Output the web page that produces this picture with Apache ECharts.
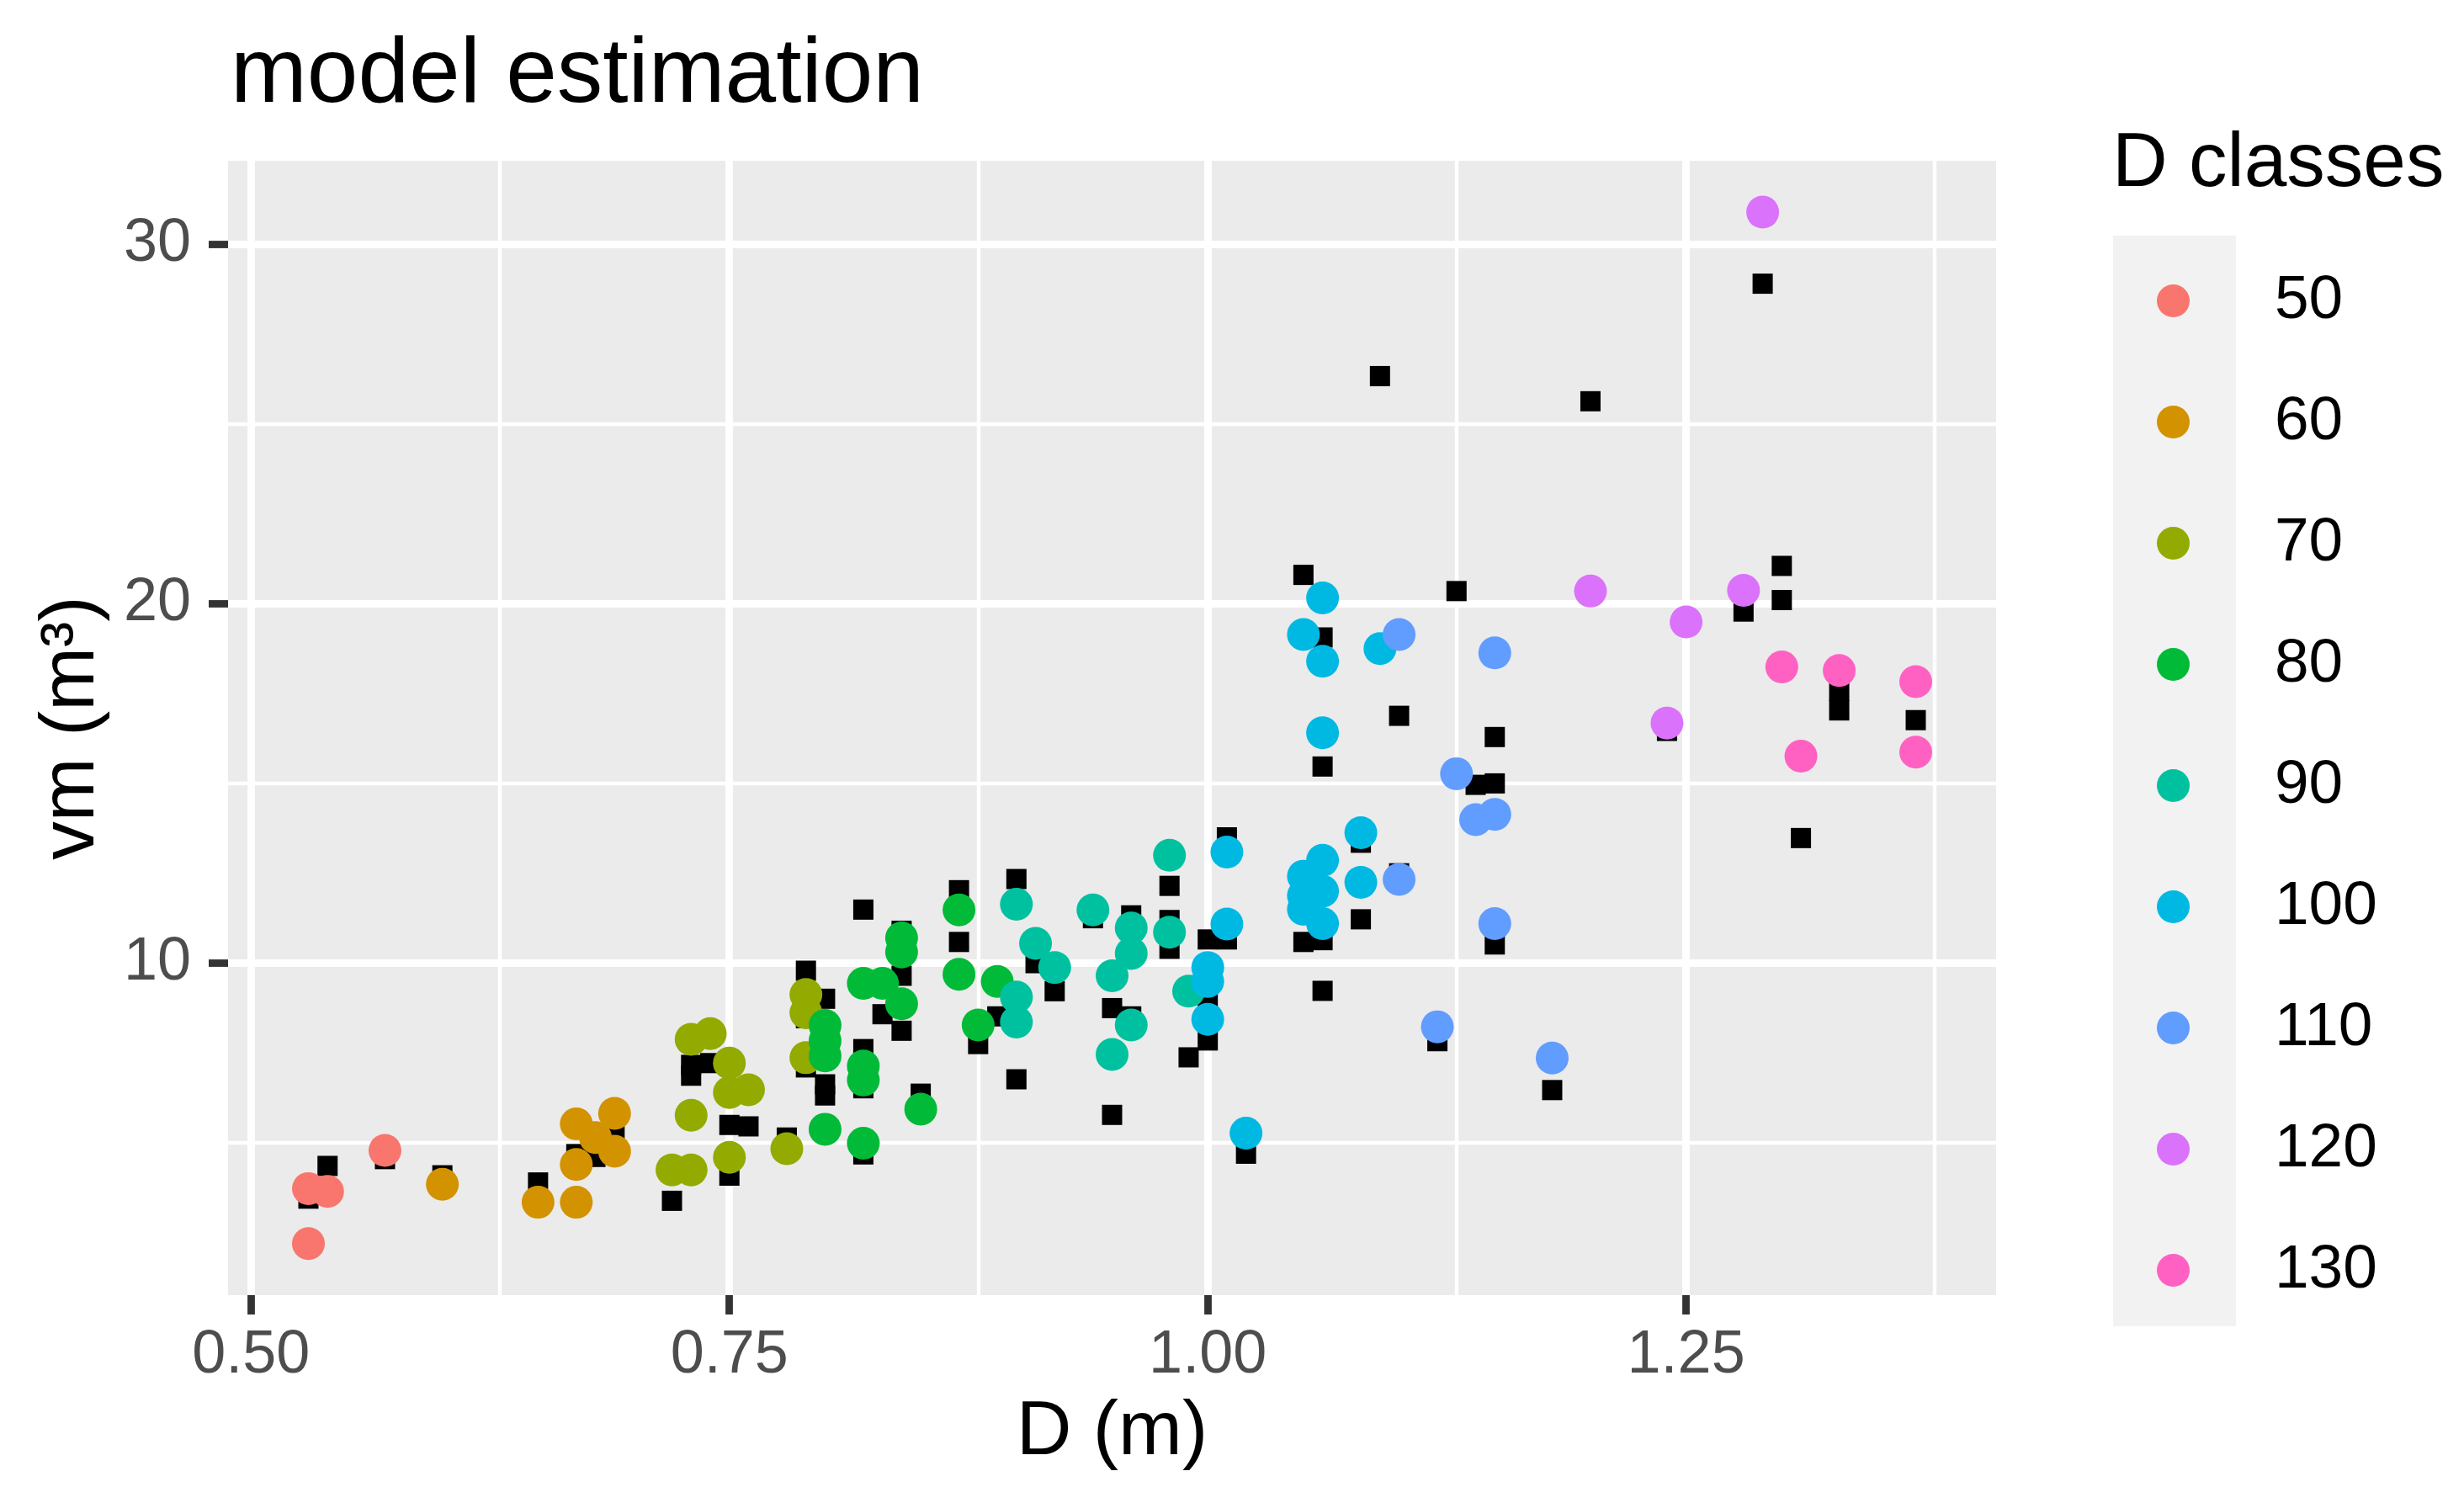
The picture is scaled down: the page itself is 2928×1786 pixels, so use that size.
<!DOCTYPE html>
<html>
<head>
<meta charset="utf-8">
<script src="https://cdn.jsdelivr.net/npm/echarts@6/dist/echarts.min.js"></script>
<style>
html,body{margin:0;padding:0;background:#fff;}
#chart{width:2928px;height:1786px;}
</style>
</head>
<body>
<div id="chart"></div>
<script>
// ---- data ----
const classNames = ['50','60','70','80','90','100','110','120','130'];

const obs50 = [[0.53,3.73],[0.54,3.65],[0.53,2.20],[0.57,4.79]];
const obs60 = [[0.60,3.85],[0.65,3.35],[0.67,3.35],[0.67,4.40],[0.68,5.15],[0.67,5.53],[0.69,5.82],[0.69,4.77]];
const obs70 = [[0.73,7.88],[0.74,8.04],[0.75,7.22],[0.75,6.40],[0.76,6.48],[0.73,5.77],[0.72,4.25],[0.73,4.25],
               [0.75,4.60],[0.78,4.84],[0.79,9.13],[0.79,8.62],[0.79,7.37]];
const obs80 = [[0.80,8.27],[0.80,7.84],[0.80,7.42],[0.82,7.14],[0.82,6.75],[0.82,9.44],[0.83,9.44],[0.80,5.38],
               [0.82,4.99],[0.84,8.87],[0.84,10.70],[0.84,10.31],[0.85,5.94],[0.87,11.48],[0.87,9.69],[0.89,9.49],[0.88,8.28]];
const obs90 = [[0.90,11.64],[0.91,10.55],[0.92,9.88],[0.90,9.06],[0.90,8.36],[0.94,11.48],[0.96,10.98],[0.96,10.27],
               [0.95,9.65],[0.96,8.28],[0.95,7.46],[0.98,13.00],[0.98,10.86],[0.99,9.22]];
const obs100 = [[1.01,13.09],[1.01,11.09],[1.00,9.88],[1.00,9.49],[1.00,8.44],[1.02,5.27],[1.08,13.63],[1.08,12.25],
                [1.06,12.86],[1.06,12.00],[1.06,11.10],[1.05,12.42],[1.05,11.88],[1.05,11.50],
                [1.06,20.16],[1.05,19.14],[1.06,18.40],[1.09,18.75],[1.06,16.41]];
const obs110 = [[1.13,15.27],[1.14,13.99],[1.15,14.14],[1.10,12.33],[1.15,11.10],[1.12,8.23],[1.18,7.36],[1.10,19.14],[1.15,18.63]];
const obs120 = [[1.29,30.89],[1.20,20.35],[1.28,20.37],[1.25,19.49],[1.24,16.68]];
const obs130 = [[1.30,18.24],[1.33,18.14],[1.31,15.76],[1.37,17.83],[1.37,15.87]];

const estimated = [
  [0.53,3.45],[0.54,4.36],[0.57,4.55],[0.60,4.10],[0.65,3.90],[0.67,4.69],[0.68,4.61],[0.69,5.28],
  [0.72,3.39],[0.73,7.17],[0.73,6.87],[0.74,7.22],[0.75,5.50],[0.76,5.46],[0.75,4.09],[0.78,5.15],
  [0.79,9.79],[0.79,8.47],[0.79,7.10],[0.80,9.01],[0.80,6.63],[0.80,6.32],[0.82,11.49],[0.82,7.61],
  [0.82,6.52],[0.82,4.68],[0.83,8.58],[0.84,9.65],[0.84,8.12],[0.84,10.90],[0.85,6.37],[0.87,12.03],
  [0.87,10.59],[0.90,12.34],[0.89,8.52],[0.88,7.75],[0.90,6.77],[0.91,10.00],[0.92,9.22],[0.94,11.25],
  [0.96,11.33],[0.95,8.75],[0.96,8.52],[0.95,5.78],[0.98,12.15],[0.98,11.20],[0.98,10.40],[1.00,10.66],
  [1.00,8.98],[1.00,7.85],[0.99,7.38],[1.01,13.50],[1.01,10.66],[1.02,4.70],[1.05,10.59],[1.06,10.64],
  [1.06,15.47],[1.14,14.96],[1.15,15.00],[1.10,12.50],[1.08,11.22],[1.15,10.52],[1.06,9.23],[1.12,7.83],
  [1.18,6.47],[1.31,13.48],[1.08,13.35],[1.09,26.33],[1.20,25.63],[1.05,20.80],[1.13,20.35],[1.30,21.05],
  [1.30,20.10],[1.28,19.78],[1.06,19.06],[1.10,16.88],[1.15,16.29],[1.24,16.46],[1.33,17.57],[1.33,17.03],
  [1.29,28.90],[1.37,16.76]
];

const observedByClass = [obs50, obs60, obs70, obs80, obs90, obs100, obs110, obs120, obs130];

const xTicks = [0.5, 0.75, 1.0, 1.25];
const xMinorTicks = [0.625, 0.875, 1.125, 1.375];
const yTicks = [10, 20, 30];
const yMinorTicks = [5, 15, 25];

// ---- styling ----
const palette = ['#F8766D','#D39200','#93AA00','#00BA38','#00C19F','#00B9E3','#619CFF','#DB72FB','#FF61C3'];
const FONT = '"Liberation Sans", Arial, sans-serif';

const chart = echarts.init(document.getElementById('chart'), null, {renderer: 'canvas'});

const gridLines = [];
xTicks.forEach(v => gridLines.push({xAxis: v, lineStyle: {width: 8.8, color: '#FFFFFF', type: 'solid'}}));
xMinorTicks.forEach(v => gridLines.push({xAxis: v, lineStyle: {width: 4.4, color: '#FFFFFF', type: 'solid'}}));
yTicks.forEach(v => gridLines.push({yAxis: v, lineStyle: {width: 8.8, color: '#FFFFFF', type: 'solid'}}));
yMinorTicks.forEach(v => gridLines.push({yAxis: v, lineStyle: {width: 4.4, color: '#FFFFFF', type: 'solid'}}));

const series = [
  {
    name: 'gridlines', type: 'scatter', data: [], z: 1, silent: true,
    markLine: {silent: true, z: 1, zlevel: 0, symbol: ['none','none'], label: {show: false}, animation: false, data: gridLines}
  },
  {
    name: 'estimated', type: 'scatter', data: estimated, symbol: 'rect', symbolSize: 24,
    itemStyle: {color: '#000000', opacity: 1}, z: 3, animation: false
  }
];
classNames.forEach((c, i) => {
  series.push({
    name: c, type: 'scatter', data: observedByClass[i], symbol: 'circle', symbolSize: 39,
    itemStyle: {color: palette[i], opacity: 1}, z: 4, animation: false
  });
});

chart.setOption({
  animation: false,
  backgroundColor: '#FFFFFF',
  textStyle: {fontFamily: FONT},
  title: [
    {text: 'model estimation', left: 274, top: 36, padding: 0,
     textStyle: {fontSize: 109, fontWeight: 'normal', color: '#000000', fontFamily: FONT}},
    {text: 'D classes', left: 2510, top: 150, padding: 0,
     textStyle: {fontSize: 91, fontWeight: 'normal', color: '#000000', fontFamily: FONT}}
  ],
  graphic: [
    {type: 'rect', left: 2511, top: 280, shape: {width: 146, height: 1296}, style: {fill: '#F2F2F2'}, z: -10, silent: true}
  ],
  legend: {
    data: classNames, orient: 'vertical', left: 2563, top: 321, padding: 0,
    itemWidth: 39, itemHeight: 39, itemGap: 71, icon: 'circle',
    textStyle: {fontSize: 73, color: '#000000', fontFamily: FONT, lineHeight: 73, padding: [0,0,0,96]},
    selectedMode: false
  },
  grid: {left: 271, right: 556, top: 191, bottom: 247, show: true, backgroundColor: '#EBEBEB', borderWidth: 0, containLabel: false},
  xAxis: {
    type: 'value', min: 0.488, max: 1.412,
    name: 'D (m)', nameLocation: 'middle', nameGap: 118,
    nameTextStyle: {fontSize: 91, color: '#000000', fontFamily: FONT},
    axisLine: {show: false},
    axisTick: {show: true, length: 23, customValues: xTicks, lineStyle: {color: '#333333', width: 8.8}},
    axisLabel: {show: true, customValues: xTicks, margin: 36, fontSize: 72, color: '#4D4D4D', fontFamily: FONT,
                formatter: v => v.toFixed(2)},
    splitLine: {show: false}
  },
  yAxis: {
    type: 'value', min: 0.766, max: 32.32,
    name: 'vm (m³)', nameLocation: 'middle', nameGap: 140, nameRotate: 90,
    nameTextStyle: {fontSize: 91, color: '#000000', fontFamily: FONT},
    axisLine: {show: false},
    axisTick: {show: true, length: 23, customValues: yTicks, lineStyle: {color: '#333333', width: 8.8}},
    axisLabel: {show: true, customValues: yTicks, margin: 44, fontSize: 72, color: '#4D4D4D', fontFamily: FONT,
                formatter: v => String(Math.round(v))},
    splitLine: {show: false}
  },
  series: series
});
</script>
</body>
</html>
